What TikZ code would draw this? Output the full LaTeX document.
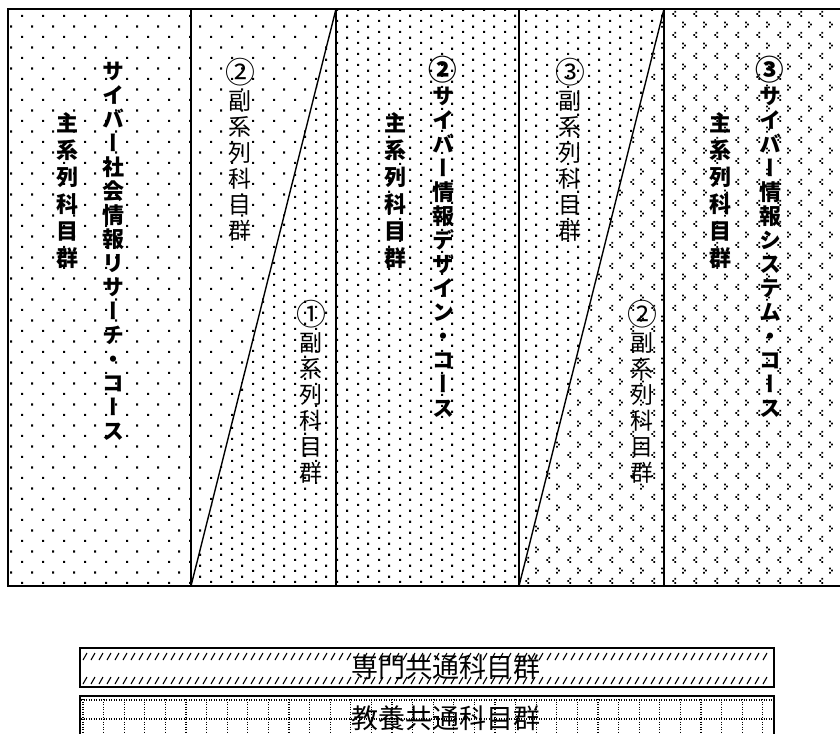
\documentclass[tikz,border=0pt]{standalone}
\usepackage{fontspec}
\usepackage{graphicx}
\newfontfamily\cjkv{Noto Sans CJK JP}[RawFeature=+vert]
\newfontfamily\cjkh{Noto Sans CJK JP}
\usetikzlibrary{patterns}
\newcommand\bignum[1]{\scalebox{1.3}{#1}}

\pgfdeclarepatternformonly{sparsedots}{\pgfpointorigin}{\pgfqpoint{21pt}{21.4pt}}{\pgfqpoint{21pt}{21.4pt}}{%
  \pgfpathrectangle{\pgfqpoint{0pt}{0pt}}{\pgfqpoint{2.2pt}{2.2pt}}%
  \pgfpathrectangle{\pgfqpoint{10.5pt}{10.7pt}}{\pgfqpoint{2.2pt}{2.2pt}}%
  \pgfusepath{fill}}
\pgfdeclarepatternformonly{mediumdots}{\pgfpointorigin}{\pgfqpoint{21pt}{10.7pt}}{\pgfqpoint{21pt}{10.7pt}}{%
  \pgfpathrectangle{\pgfqpoint{0pt}{0pt}}{\pgfqpoint{2.2pt}{2.2pt}}%
  \pgfpathrectangle{\pgfqpoint{10.5pt}{5.35pt}}{\pgfqpoint{2.2pt}{2.2pt}}%
  \pgfusepath{fill}}
\pgfdeclarepatternformonly{chevrons}{\pgfpointorigin}{\pgfqpoint{21pt}{21.4pt}}{\pgfqpoint{21pt}{21.4pt}}{%
  \pgfpathrectangle{\pgfqpoint{2.6pt}{0pt}}{\pgfqpoint{1.8pt}{1.8pt}}%
  \pgfpathrectangle{\pgfqpoint{0.4pt}{2.2pt}}{\pgfqpoint{1.8pt}{1.8pt}}%
  \pgfpathrectangle{\pgfqpoint{2.6pt}{4.4pt}}{\pgfqpoint{1.8pt}{1.8pt}}%
  \pgfpathrectangle{\pgfqpoint{10.5pt}{10.7pt}}{\pgfqpoint{1.8pt}{1.8pt}}%
  \pgfpathrectangle{\pgfqpoint{12.7pt}{12.9pt}}{\pgfqpoint{1.8pt}{1.8pt}}%
  \pgfpathrectangle{\pgfqpoint{10.5pt}{15.1pt}}{\pgfqpoint{1.8pt}{1.8pt}}%
  \pgfusepath{fill}}

\tikzset{
  frame/.style={line width=2pt},
  divider/.style={line width=1.6pt},
  slant/.style={line width=1.4pt},
  mainlbl/.style={font=\cjkv\bfseries\fontsize{22}{27}\selectfont, align=center, inner sep=0pt},
  courselbl/.style={font=\cjkv\bfseries\fontsize{22}{24}\selectfont, align=center, inner sep=0pt},
  sublbl/.style={font=\cjkv\fontsize{23}{26}\selectfont, align=center, inner sep=0pt},
  botlbl/.style={font=\cjkh\fontsize{27}{29}\selectfont, inner sep=0pt},
  hatch/.style={line width=1.1pt},
  gridline/.style={line width=1.1pt, dash pattern=on 1.1pt off 1.4pt}
}

\begin{document}
\begin{tikzpicture}[x=1pt,y=-1pt]
\useasboundingbox (0,0) rectangle (840,733);
% fills
\fill[pattern=sparsedots] (8,9) -- (336,9) -- (191,586) -- (8,586) -- cycle;
\fill[pattern=mediumdots] (336,9) -- (664,9) -- (519,586) -- (191,586) -- cycle;
\fill[pattern=chevrons] (664,9) -- (850,9) -- (850,586) -- (519,586) -- cycle;
% frame and dividers
\draw[frame] (8,9) rectangle (850,586);
\draw[divider] (191,9) -- (191,586);
\draw[divider] (336,9) -- (336,586);
\draw[divider] (519,9) -- (519,586);
\draw[divider] (664,9) -- (664,586);
\draw[slant] (191,586) -- (336,9);
\draw[slant] (519,586) -- (664,9);
% column 1
\node[mainlbl] (m1) at (67,191) {主\\系\\列\\科\\目\\群};
\node[courselbl] (c1) at (113,251) {サ\\イ\\バ\\ー\\社\\会\\情\\報\\リ\\サ\\ー\\チ\\・\\コ\\ー\\ス};
% column 2
\node[sublbl] (s2a) at (240,150) {\bignum{②}\\副\\系\\列\\科\\目\\群};
\node[sublbl] (s2b) at (311,392) {\bignum{①}\\副\\系\\列\\科\\目\\群};
% column 3
\node[mainlbl] (m3) at (395,191) {主\\系\\列\\科\\目\\群};
\node[courselbl] (c3) at (443,237) {\bignum{②}\\サ\\イ\\バ\\ー\\情\\報\\デ\\ザ\\イ\\ン\\・\\コ\\ー\\ス};
% column 4
\node[sublbl] (s4a) at (570,150) {\bignum{③}\\副\\系\\列\\科\\目\\群};
\node[sublbl] (s4b) at (642,392) {\bignum{②}\\副\\系\\列\\科\\目\\群};
% column 5
\node[mainlbl] (m5) at (720,191) {主\\系\\列\\科\\目\\群};
\node[courselbl] (c5) at (770,237) {\bignum{③}\\サ\\イ\\バ\\ー\\情\\報\\シ\\ス\\テ\\ム\\・\\コ\\ー\\ス};

% bottom box 1
\foreach \x in {83,91,...,768} {
  \draw[hatch] (\x,660) -- (\x+4,653);
  \draw[hatch] (\x,684) -- (\x+4,677);
}
\draw[frame] (80,648) rectangle (774,687);
\node[botlbl] (b1) at (446,667) {専門共通科目群};

% bottom box 2
\foreach \x in {83,103.6,...,772} {
  \draw[gridline] (\x,699) -- (\x,740);
}
\draw[gridline] (81,700) -- (773,700);
\draw[gridline] (81,719) -- (773,719);
\draw[frame] (80,696) rectangle (774,745);
\node[botlbl] (b2) at (446,718) {教養共通科目群};
\end{tikzpicture}
\end{document}
